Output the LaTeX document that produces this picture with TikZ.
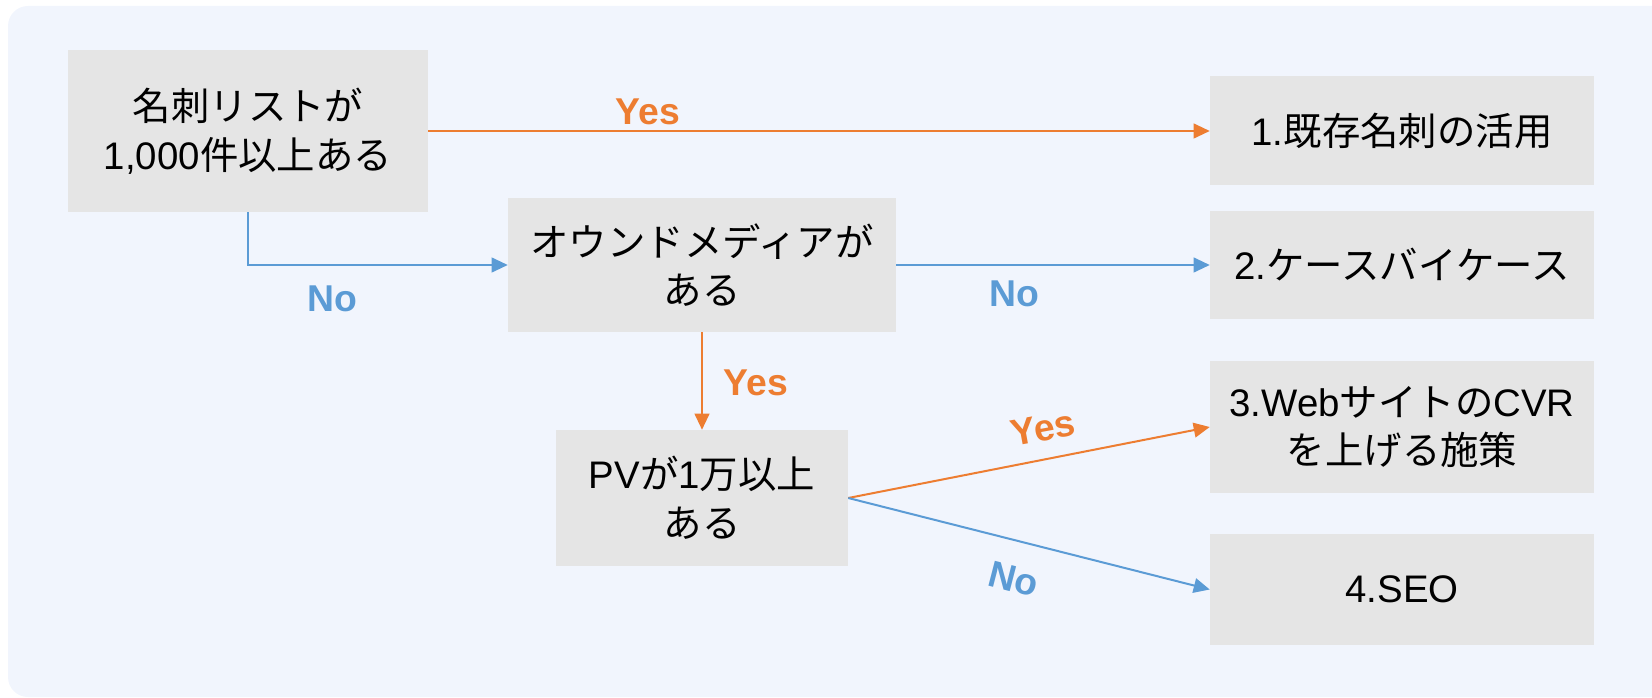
\documentclass[tikz,border=0pt]{standalone}
\usepackage{fontspec}
\setmainfont{Liberation Sans}
\newfontfamily\jp{Noto Sans CJK JP}
\usetikzlibrary{arrows.meta}
\definecolor{bgc}{HTML}{F1F5FD}
\definecolor{boxc}{HTML}{E5E5E5}
\definecolor{orng}{HTML}{ED7D31}
\definecolor{blu}{HTML}{5B9BD5}
\begin{document}
\begin{tikzpicture}[x=0.75pt,y=-0.75pt,
  box/.style={fill=boxc, draw=none, align=center, inner sep=0pt, text=black,
    font=\fontsize{28.8}{36.5}\selectfont},
  yesline/.style={draw=orng, line width=1.5pt, -{Triangle[length=12pt,width=11pt]}},
  noline/.style={draw=blu, line width=1.5pt, -{Triangle[length=12pt,width=11pt]}},
  yeslbl/.style={text=orng, inner sep=0pt, font=\fontsize{28}{32}\selectfont\bfseries},
  nolbl/.style={text=blu, inner sep=0pt, font=\fontsize{28}{32}\selectfont\bfseries}]
\useasboundingbox (0,0) rectangle (1652,698);
\begin{scope}
  \clip (0,0) rectangle (1652,698);
  \fill[bgc, rounded corners=15pt] (8,6) rectangle (1690,697);
\end{scope}
% boxes
\node[box, minimum width=270pt, minimum height=121.5pt] (A) at (248,131)
  {{\jp 名刺リストが}\\1,000{\jp 件以上ある}};
\node[box, minimum width=291pt, minimum height=100.5pt] (B) at (702,265)
  {{\jp オウンドメディアが}\\{\jp ある}};
\node[box, minimum width=219pt, minimum height=102pt] (C) at (702,498)
  {PV{\jp が}1{\jp 万以上}\\{\jp ある}};
\node[box, minimum width=288pt, minimum height=81.75pt] (R1) at (1402,130.5)
  {1.{\jp 既存名刺の活用}};
\node[box, minimum width=288pt, minimum height=81pt] (R2) at (1402,265)
  {2.{\jp ケースバイケース}};
\node[box, minimum width=288pt, minimum height=99pt] (R3) at (1402,427)
  {3.Web{\jp サイトの}CVR\\{\jp を上げる施策}};
\node[box, minimum width=288pt, minimum height=83.25pt] (R4) at (1402,589.5)
  {4.SEO};
% connectors
\draw[yesline] (A.east) -- (A.east -| R1.west);
\draw[noline] (A.south) |- (B.west);
\draw[noline] (B.east) -- (R2.west);
\draw[yesline] (B.south) -- (C.north);
\draw[yesline] (C.east) -- (R3.west);
\draw[noline] (C.east) -- (R4.west);
% labels
\node[yeslbl] (l1) at (648,112) {Yes};
\node[nolbl] (l2) at (332,299) {No};
\node[nolbl] (l3) at (1014,294) {No};
\node[yeslbl] (l4) at (756,383) {Yes};
\node[yeslbl, rotate=10.4] (l5) at (1043,428) {Yes};
\node[nolbl, rotate=-14.5] (l6) at (1014,579) {No};
\end{tikzpicture}
\end{document}
